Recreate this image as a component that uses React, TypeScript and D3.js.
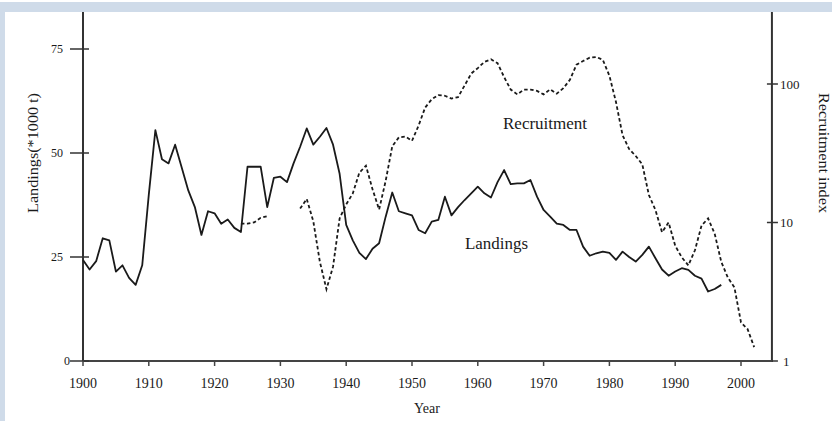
import React from "react";
import * as d3 from "d3";

// landings (*1000 t), one value per year from 1900
const landingYears = d3.range(1900, 1998);
const landings = [
  24.3, 22, 24, 29.5, 29, 21.5, 23, 20, 18.3, 23,
  40, 55.5, 48.5, 47.5, 52, 46.5, 41, 37, 30.3, 36,
  35.5, 33, 34, 32, 31, 46.7, 46.7, 46.7, 37, 44,
  44.3, 43, 47.5, 51.5, 55.9, 52, 53.9, 56, 52, 45,
  32.7, 29, 26, 24.5, 27, 28.3, 34.7, 40.5, 36, 35.5,
  35, 31.5, 30.7, 33.5, 33.9, 39.5, 35, 37, 38.7, 40.3,
  41.9, 40.3, 39.3, 43, 45.9, 42.5, 42.7, 42.7, 43.5, 39.5,
  36.3, 34.7, 33, 32.7, 31.5, 31.5, 27.5, 25.3, 25.9, 26.3,
  26, 24.3, 26.3, 25, 23.9, 25.5, 27.5, 24.7, 22, 20.5,
  21.5, 22.3, 21.9, 20.5, 19.8, 16.7, 17.3, 18.3,
];

// recruitment index, one value per year from 1924 (null = no data)
const recruitYears = d3.range(1924, 2003);
const recruitment: (number | null)[] = [
  9.8, 9.8, 10.0, 10.8, 11.1, null, null, null, null, 12.6,
  14.8, 10.2, 5.2, 3.3, 4.8, 10.7, 13.5, 16.2, 22.9, 25.7,
  17.4, 12.4, 20, 35.5, 41.2, 41.7, 38.9, 50.1, 67.6, 77.6,
  83.2, 82.2, 78.5, 80.4, 97.7, 118.9, 130.3, 144.5, 150.7, 141.3,
  112.2, 91.2, 84.1, 91.2, 91.2, 89.1, 84.1, 91.6, 85.1, 93.3,
  107.2, 138, 146.6, 154.9, 156.7, 149.6, 114.8, 74.1, 42.7, 33.9,
  30.2, 26.3, 15.8, 12.3, 8.5, 10, 6.8, 5.6, 4.9, 6.3,
  9.5, 10.7, 8.3, 5.2, 4.0, 3.4, 1.9, 1.7, 1.26,
];

const yearTicks = [1900, 1910, 1920, 1930, 1940, 1950, 1960, 1970, 1980, 1990, 2000];
const landingTicks = [0, 25, 50, 75];
const recruitTicks = [1, 10, 100];

const W = 832;
const H = 421;
const FONT = "'Liberation Serif', 'DejaVu Serif', serif";
const INK = "#1a1a1a";

export default function App() {
  const x = d3.scaleLinear().domain([1900, 2000]).range([83, 741]);
  const yL = d3.scaleLinear().domain([0, 75]).range([361, 49]);
  const yR = d3.scaleLog().domain([1, 100]).range([361, 84]);

  const xEnd = x(2004.7);
  const yTop = 12;

  const landLine = d3
    .line<number>()
    .x((_, i) => x(landingYears[i]))
    .y((d) => yL(d));

  const recLine = d3
    .line<number | null>()
    .defined((d) => d != null)
    .x((_, i) => x(recruitYears[i]))
    .y((d) => yR(d as number));

  return (
    <div style={{ position: "fixed", left: 0, top: 0 }}>
      <svg width={W} height={H} style={{ display: "block", background: "#fff" }}>
        <rect x={0} y={2} width={W} height={10} fill="#cfdbe9" />
        <rect x={0} y={2} width={5} height={H - 2} fill="#cfdbe9" />

        {/* axes */}
        <line x1={x(1900)} x2={x(1900)} y1={yTop} y2={yL(0)} stroke="#333" strokeWidth={2} />
        <line x1={xEnd} x2={xEnd} y1={yTop} y2={yL(0) + 1} stroke="#333" strokeWidth={2} />
        <line x1={x(1900)} x2={xEnd} y1={yL(0)} y2={yL(0)} stroke="#444" strokeWidth={2} />

        {landingTicks.map((t) => (
          <g key={"l" + t}>
            <line x1={x(1900) - 13} x2={x(1900) + 6} y1={yL(t)} y2={yL(t)} stroke="#333" strokeWidth={1.5} />
            <text
              x={t === 0 ? 70 : 63}
              y={yL(t)}
              dy="0.35em"
              textAnchor="end"
              fontFamily={FONT}
              fontSize={12}
              fill={INK}
            >
              {t}
            </text>
          </g>
        ))}

        {recruitTicks.map((t) => (
          <g key={"r" + t}>
            <line x1={xEnd - (t === 1 ? 0 : 5)} x2={xEnd + 6} y1={yR(t)} y2={yR(t)} stroke="#333" strokeWidth={1.5} />
            <text x={xEnd + 8 + (t === 1 ? 3 : 0)} y={yR(t)} dy="0.35em" fontFamily={FONT} fontSize={13} fill={INK}>
              {t}
            </text>
          </g>
        ))}

        {yearTicks.map((t) => (
          <g key={"x" + t}>
            <line x1={x(t)} x2={x(t)} y1={yL(0)} y2={yL(0) + 5} stroke="#444" strokeWidth={1.5} />
            <text x={x(t)} y={388} textAnchor="middle" fontFamily={FONT} fontSize={14} fill={INK}>
              {t}
            </text>
          </g>
        ))}

        {/* series */}
        <path d={recLine(recruitment) ?? ""} fill="none" stroke="#1a1a1a" strokeWidth={1.8} strokeDasharray="3.5,2.5" />
        <path d={landLine(landings) ?? ""} fill="none" stroke="#1a1a1a" strokeWidth={1.8} strokeLinejoin="round" />

        {/* labels */}
        <text x={503} y={129} textLength={84} lengthAdjust="spacingAndGlyphs" fontFamily={FONT} fontSize={16} fill={INK}>
          Recruitment
        </text>
        <text x={465} y={249} textLength={63} lengthAdjust="spacingAndGlyphs" fontFamily={FONT} fontSize={16} fill={INK}>
          Landings
        </text>
        <text x={427} y={413} textAnchor="middle" fontFamily={FONT} fontSize={14} fill={INK}>
          Year
        </text>
        <text
          transform="translate(38,153) rotate(-90)"
          textAnchor="middle"
          textLength={120}
          lengthAdjust="spacingAndGlyphs"
          fontFamily={FONT}
          fontSize={14}
          fill={INK}
        >
          Landings(*1000 t)
        </text>
        <text
          transform="translate(819,153) rotate(90)"
          textAnchor="middle"
          textLength={120}
          lengthAdjust="spacingAndGlyphs"
          fontFamily={FONT}
          fontSize={14}
          fill={INK}
        >
          Recruitment index
        </text>
      </svg>
    </div>
  );
}
